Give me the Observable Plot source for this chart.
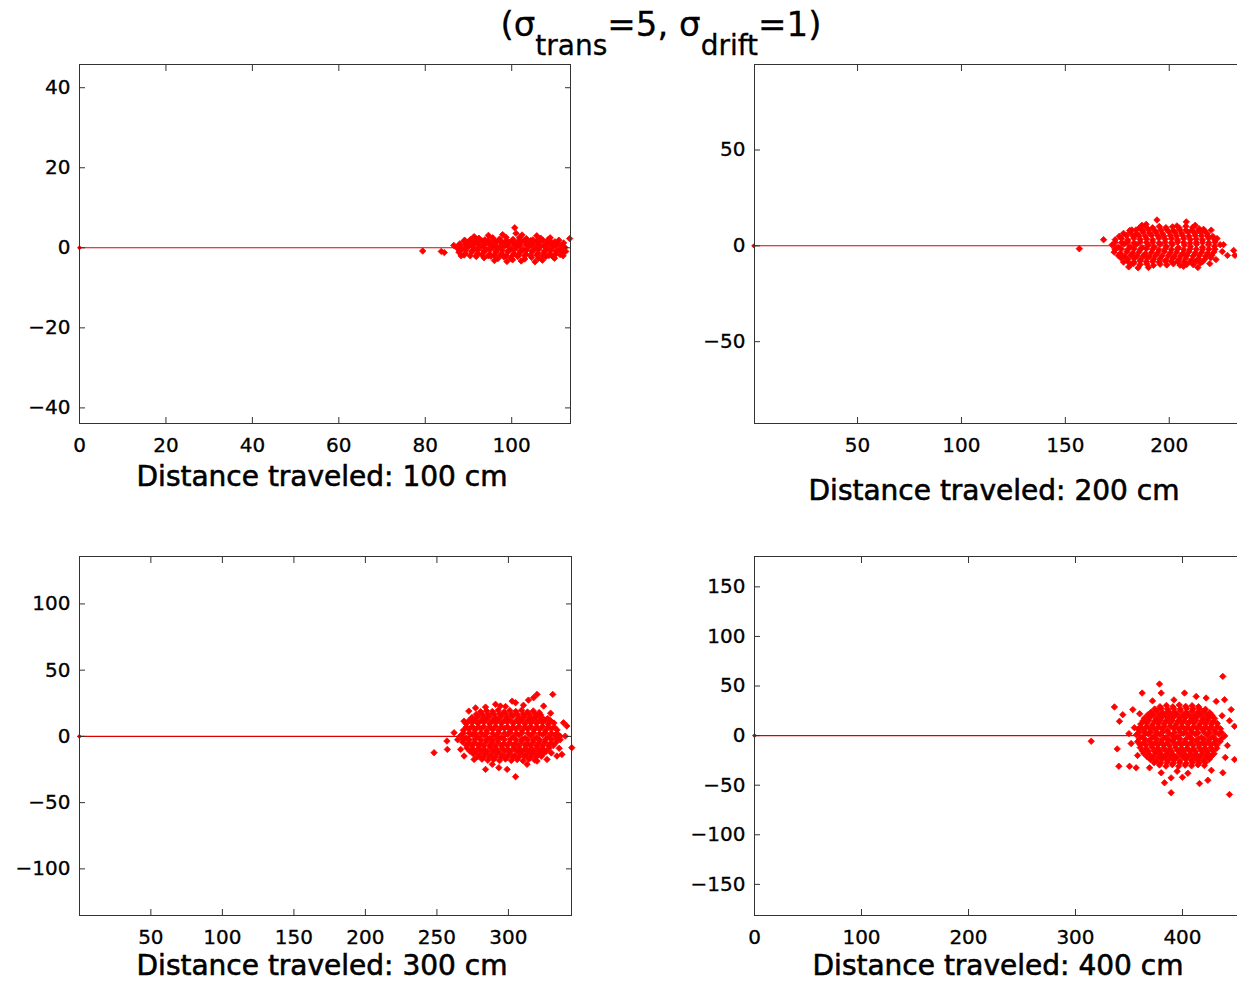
<!DOCTYPE html>
<html><head><meta charset="utf-8">
<script src="https://cdn.jsdelivr.net/npm/d3@7"></script>
<script src="https://cdn.jsdelivr.net/npm/@observablehq/plot@0.6"></script>
<style>
html,body{margin:0;padding:0;background:#fff;overflow:hidden;width:1237px;height:982px}
#root{position:relative;width:1237px;height:982px;font-family:"DejaVu Sans",sans-serif;overflow:hidden}
.panel{position:absolute;width:640px}
.panel svg{overflow:visible;max-width:none !important}
.panel svg text{stroke:#000;stroke-width:0.3px;paint-order:stroke}
</style></head><body><div id="root"></div>
<script>
// ---------- data ----------
const distances = [100, 200, 300, 400];
const xLimits = [[0, 113.6], [0.4, 236.7], [0.1, 344.1], [0, 458.9]];
const yLimits = [[-43.9, 45.8], [-92.7, 94.6], [-135.2, 135.8], [-181.4, 180.6]];
const xTicks = [[0, 20, 40, 60, 80, 100], [50, 100, 150, 200], [50, 100, 150, 200, 250, 300], [0, 100, 200, 300, 400]];
const yTicks = [[-40, -20, 0, 20, 40], [-50, 0, 50], [-100, -50, 0, 50, 100], [-150, -100, -50, 0, 50, 100, 150]];
const xLabels = ["Distance traveled: 100 cm", "Distance traveled: 200 cm", "Distance traveled: 300 cm", "Distance traveled: 400 cm"];
const titleParts = ["(σ", "trans", "=5, σ", "drift", "=1)"];

const cloud100 = [
[87.2,0.1],[88.6,-0.3],[90.1,0.4],[91.4,-0.2],[92.9,0.3],[94.2,-0.4],[95.7,0.2],[97.0,-0.1],[98.4,0.5],[99.9,-0.3],[101.2,0.2],[102.7,-0.4],[104.0,0.3],[105.5,-0.1],[106.8,0.4],[108.3,-0.2],[109.6,0.3],[111.0,-0.4],[112.3,0.1],
[88.0,1.0],[89.7,1.4],[91.1,1.1],[92.5,1.5],[93.9,1.2],[95.3,1.0],[96.7,1.6],[98.1,1.2],[99.5,1.4],[100.9,1.0],[102.3,1.5],[103.7,1.1],[105.1,1.3],[106.5,1.6],[107.9,1.0],[109.3,1.3],[110.7,1.1],
[87.8,-1.1],[89.3,-1.4],[90.7,-1.0],[92.1,-1.5],[93.5,-1.2],[94.9,-1.6],[96.3,-1.1],[97.7,-1.4],[99.1,-1.0],[100.5,-1.5],[101.9,-1.2],[103.3,-1.6],[104.7,-1.0],[106.1,-1.4],[107.5,-1.2],[108.9,-1.5],[110.3,-1.0],[111.7,-1.3],
[90.5,2.1],[92.4,2.4],[93.8,2.0],[95.6,2.5],[97.2,2.2],[98.7,2.6],[100.3,2.1],[101.8,2.5],[103.4,2.3],[104.9,2.0],[106.7,2.4],[108.4,2.0],
[91.8,-2.2],[93.6,-2.5],[95.2,-2.1],[96.8,-2.7],[98.2,-2.3],[99.8,-2.6],[101.4,-2.2],[103.0,-2.8],[104.6,-2.4],[106.2,-2.6],[107.9,-2.2],[109.6,-2.3],
[89.1,1.9],[91.3,2.8],[94.6,3.1],[97.9,3.3],[101.0,3.6],[102.4,3.2],[105.8,3.0],[108.9,2.5],[110.9,1.9],[96.0,-3.2],[98.9,-3.4],[100.2,-3.0],[102.2,-3.3],[105.4,-3.5],[107.1,-3.1],[109.9,-2.6],[111.9,-2.0],[112.5,-0.9],[88.3,-2.0],[112.0,1.2],
[79.4,-0.8],[83.7,-0.9],[84.4,-1.2],[100.7,5.0],[113.4,2.3],[86.6,0.6]
];
const core100 = [
[87.9,0.6],[89.3,0.7],[90.8,0.5],[92.1,0.8],[93.5,0.6],[94.9,0.7],[96.3,0.5],[97.7,0.8],[99.1,0.6],[100.5,0.7],[101.9,0.5],[103.3,0.8],[104.7,0.6],[106.1,0.7],[107.5,0.5],[108.9,0.8],[110.3,0.6],[111.6,0.5],
[88.0,-0.7],[89.4,-0.5],[90.9,-0.8],[92.2,-0.6],[93.6,-0.7],[95.0,-0.5],[96.4,-0.8],[97.8,-0.6],[99.2,-0.7],[100.6,-0.5],[102.0,-0.8],[103.4,-0.6],[104.8,-0.7],[106.2,-0.5],[107.6,-0.8],[109.0,-0.6],[110.4,-0.7],[111.8,-0.6],
[89.0,1.7],[90.4,1.9],[91.8,1.8],[93.2,1.7],[94.6,1.9],[96.0,1.8],[97.4,1.7],[98.8,1.9],[100.2,1.8],[101.6,1.7],[103.0,1.9],[104.4,1.8],[105.8,1.7],[107.2,1.9],[108.6,1.6],[110.0,1.5],
[89.0,-1.8],[90.4,-2.0],[91.8,-1.9],[93.2,-1.8],[94.6,-2.0],[96.0,-1.9],[97.4,-1.8],[98.8,-2.0],[100.2,-1.9],[101.6,-1.8],[103.0,-2.0],[104.4,-1.9],[105.8,-1.8],[107.2,-2.0],[108.6,-1.9],[110.0,-1.8],[111.2,-1.7]
];

const cloud200 = [
[172.5,0.5],[175.4,-0.8],[178.3,1.0],[181.2,-0.5],[184.1,0.7],[187.0,-1.0],[189.9,0.3],[192.8,-0.6],[195.7,0.9],[198.6,-0.4],[201.5,0.6],[204.4,-0.9],[207.3,0.4],[210.2,-0.3],[213.1,0.8],[216.0,-0.7],[218.9,0.5],[221.8,-0.2],[224.5,0.6],
[174.0,3.2],[177.1,3.8],[180.0,3.0],[183.0,3.9],[186.0,3.3],[189.1,3.6],[192.0,3.1],[195.0,4.0],[198.0,3.4],[201.1,3.7],[204.0,3.0],[207.0,3.8],[210.1,3.3],[213.0,3.6],[216.0,3.1],[219.0,3.9],[221.9,3.2],
[173.5,-3.3],[176.5,-3.9],[179.6,-3.1],[182.5,-3.7],[185.5,-3.2],[188.6,-4.0],[191.5,-3.4],[194.5,-3.6],[197.6,-3.0],[200.5,-3.8],[203.5,-3.3],[206.6,-3.9],[209.5,-3.1],[212.5,-3.7],[215.6,-3.4],[218.5,-3.8],[221.5,-3.2],
[178.0,6.5],[181.2,7.0],[184.3,6.4],[187.4,7.2],[190.5,6.7],[193.6,7.1],[196.7,6.5],[199.8,7.3],[202.9,6.8],[206.0,6.4],[209.1,7.1],[212.2,6.6],[215.3,7.0],[218.3,6.3],
[176.8,-6.4],[180.0,-7.0],[183.1,-6.6],[186.2,-7.3],[189.3,-6.5],[192.4,-7.1],[195.5,-6.8],[198.6,-7.4],[201.7,-6.6],[204.8,-7.0],[207.9,-6.5],[211.0,-7.2],[214.1,-6.7],[217.2,-6.9],[220.0,-6.2],
[185.5,9.2],[188.8,9.8],[192.0,9.4],[195.2,10.1],[198.4,9.5],[201.6,9.9],[204.8,9.3],[208.0,10.2],[211.2,9.6],[214.4,8.9],
[182.8,-9.3],[186.0,-9.8],[189.2,-9.5],[192.4,-10.2],[195.6,-9.6],[198.8,-10.0],[202.0,-9.4],[205.2,-10.1],[208.4,-9.7],[211.6,-9.9],[215.0,-9.0],
[186.8,10.7],[188.9,11.2],[194.1,13.5],[203.7,10.4],[208.2,12.5],[212.5,10.7],[216.5,8.6],[223.0,3.8],[226.1,0.6],[228.0,-5.0],[231.0,-2.4],[231.6,-5.0],[174.0,-1.5],[176.4,-5.0],[178.0,-8.5],[181.5,-9.8],[190.0,-11.3],[206.9,-10.7],[213.8,-11.3],[168.4,3.2],[156.7,-1.5],[180.5,-11.0],[185.0,-11.5],[219.5,-9.3],[222.5,-7.2],[225.5,-3.0],[220.2,8.2],[182.0,8.3]
];
const core200 = [
[174,1.8],[177,1.6],[180,1.9],[183,1.5],[186,1.8],[189,1.7],[192,1.9],[195,1.5],[198,1.8],[201,1.6],[204,1.9],[207,1.7],[210,1.5],[213,1.8],[216,1.7],[219,1.6],[222,1.9],
[174,-1.9],[177,-1.6],[180,-2.0],[183,-1.7],[186,-1.9],[189,-1.5],[192,-1.8],[195,-2.0],[198,-1.6],[201,-1.9],[204,-1.7],[207,-2.0],[210,-1.6],[213,-1.8],[216,-1.9],[219,-1.7],[222,-1.8],
[176,5.0],[179.5,5.4],[182.5,5.1],[185.5,5.3],[188.5,5.0],[191.5,5.5],[194.5,5.2],[197.5,5.0],[200.5,5.4],[203.5,5.1],[206.5,5.3],[209.5,5.0],[212.5,5.4],[215.5,5.2],[218.5,5.0],[221,4.9],
[175.5,-5.1],[178.5,-5.4],[181.5,-5.0],[184.5,-5.3],[187.5,-5.2],[190.5,-5.5],[193.5,-5.0],[196.5,-5.3],[199.5,-5.1],[202.5,-5.4],[205.5,-5.2],[208.5,-5.0],[211.5,-5.3],[214.5,-5.1],[217.5,-5.4],[220.5,-5.0],
[181,8.0],[184,8.3],[187,8.1],[190,8.4],[193,8.0],[196,8.3],[199,8.2],[202,8.0],[205,8.4],[208,8.1],[211,8.3],[214,8.0],[217,7.9],
[180,-8.1],[183,-8.4],[186,-8.0],[189,-8.3],[192,-8.2],[195,-8.5],[198,-8.0],[201,-8.3],[204,-8.1],[207,-8.4],[210,-8.2],[213,-8.0],[216,-8.3]
];

const cloud300 = [
[266.5,0.5],[270.6,-1.2],[274.7,1.4],[278.8,-0.6],[282.9,0.9],[287.0,-1.5],[291.1,0.3],[295.2,-0.8],[299.3,1.6],[303.4,-0.4],[307.5,1.1],[311.6,-1.3],[315.7,0.6],[319.8,-0.9],[323.9,1.3],[328.0,-0.5],[332.1,0.8],[336.2,0.2],
[268.5,4.6],[272.6,5.5],[276.7,4.8],[280.8,5.9],[284.9,4.4],[289.0,5.3],[293.1,4.7],[297.2,6.0],[301.3,4.9],[305.4,5.6],[309.5,4.5],[313.6,5.8],[317.7,4.8],[321.8,5.4],[325.9,4.6],[330.0,5.7],[334.0,4.9],
[268.0,-4.2],[272.1,-5.0],[276.2,-4.4],[280.3,-5.3],[284.4,-4.0],[288.5,-4.9],[292.6,-4.3],[296.7,-5.5],[300.8,-4.6],[304.9,-5.1],[309.0,-4.1],[313.1,-5.4],[317.2,-4.5],[321.3,-4.8],[325.4,-4.2],[329.5,-5.2],[333.2,-4.6],
[270.5,9.6],[274.6,10.4],[278.7,9.8],[282.8,10.7],[286.9,9.5],[291.0,10.3],[295.1,9.9],[299.2,10.8],[303.3,9.7],[307.4,10.5],[311.5,9.6],[315.6,10.2],[319.7,9.9],[323.8,10.6],[327.9,9.4],[331.8,10.1],
[271.0,-8.7],[275.1,-9.5],[279.2,-8.9],[283.3,-9.8],[287.4,-8.6],[291.5,-9.4],[295.6,-9.0],[299.7,-9.9],[303.8,-8.8],[307.9,-9.6],[312.0,-8.9],[316.1,-9.3],[320.2,-8.7],[324.3,-9.5],[328.4,-9.0],
[274.5,14.2],[278.6,15.0],[282.7,14.4],[286.8,15.3],[290.9,14.1],[295.0,15.2],[299.1,14.6],[303.2,15.5],[307.3,14.3],[311.4,15.1],[315.5,14.5],[319.6,14.9],[323.7,14.0],[327.5,13.5],
[275.5,-13.2],[279.6,-14.0],[283.7,-13.4],[287.8,-14.3],[291.9,-13.1],[296.0,-14.2],[300.1,-13.6],[304.2,-14.5],[308.3,-13.3],[312.4,-14.1],[316.5,-13.5],[320.6,-13.9],[324.7,-12.8],
[280.5,18.6],[284.6,19.4],[288.7,18.8],[292.8,19.7],[296.9,18.5],[301.0,19.5],[305.1,18.9],[309.2,19.8],[313.3,18.4],[317.4,19.2],[321.5,18.0],
[281.5,-17.2],[285.6,-18.0],[289.7,-17.4],[293.8,-18.3],[297.9,-17.1],[302.0,-18.2],[306.1,-17.5],[310.2,-18.4],[314.3,-17.3],[318.4,-17.9],
[331.0,31.7],[320.0,31.7],[317.6,29.2],[314.0,27.4],[302.6,26.6],[305.0,25.4],[291.0,24.2],[294.4,22.9],[284.0,22.1],[272.3,19.1],[268.9,11.5],[324.6,22.9],[338.5,10.3],[340.8,7.8],[339.7,0.2],[344.3,-8.5],[336.2,-2.5],[337.4,-13.6],[333.9,-14.8],[284.0,-24.9],[293.3,-23.6],[299.1,-24.9],[305.0,-30.4],[313.0,-21.1],[320.0,-18.6],[269.0,-14.8],[276.0,-17.4],[266.6,-9.8],[327.0,-17.4],[288.7,-21.1],[248.0,-12.3],[257.3,-9.8],[257.0,-3.5],[262.0,2.8],[264.5,-2.5],[310.5,23.5],[298.0,22.5],[329.5,17.5],[335.5,-9.0],[277.0,21.5],[330.0,-12.5]
];
const core300 = [
[268.5,2.3],[272.6,2.6],[276.7,2.2],[280.8,2.7],[284.9,2.4],[289,2.1],[293.1,2.6],[297.2,2.3],[301.3,2.8],[305.4,2.2],[309.5,2.5],[313.6,2.3],[317.7,2.7],[321.8,2.1],[325.9,2.6],[330,2.4],[334,2.2],
[268.5,-2.2],[272.6,-2.6],[276.7,-2.1],[280.8,-2.5],[284.9,-2.3],[289,-2.7],[293.1,-2.0],[297.2,-2.4],[301.3,-2.2],[305.4,-2.6],[309.5,-2.1],[313.6,-2.5],[317.7,-2.3],[321.8,-2.7],[325.9,-2.2],[330,-2.4],[334,-2.0],
[270.5,7.1],[274.6,7.5],[278.7,7.0],[282.8,7.4],[286.9,7.2],[291,7.6],[295.1,7.1],[299.2,7.3],[303.3,7.0],[307.4,7.5],[311.5,7.2],[315.6,7.4],[319.7,7.1],[323.8,7.6],[327.9,7.2],[332,7.0],
[270.5,-6.6],[274.6,-7.0],[278.7,-6.5],[282.8,-7.1],[286.9,-6.8],[291,-7.2],[295.1,-6.6],[299.2,-6.9],[303.3,-6.7],[307.4,-7.1],[311.5,-6.5],[315.6,-7.0],[319.7,-6.8],[323.8,-7.2],[327.9,-6.6],[331.5,-6.9],
[272.5,12.0],[276.6,12.4],[280.7,11.9],[284.8,12.5],[288.9,12.1],[293,12.6],[297.1,12.0],[301.2,12.3],[305.3,11.9],[309.4,12.4],[313.5,12.2],[317.6,12.6],[321.7,12.0],[325.8,12.3],[329.5,11.8],
[273,-11.1],[277.1,-11.5],[281.2,-11.0],[285.3,-11.6],[289.4,-11.2],[293.5,-11.7],[297.6,-11.1],[301.7,-11.4],[305.8,-11.0],[309.9,-11.5],[314,-11.2],[318.1,-11.6],[322.2,-11.1],[326.3,-11.3],
[277.5,16.6],[281.6,17.0],[285.7,16.5],[289.8,17.1],[293.9,16.7],[298,17.2],[302.1,16.6],[306.2,16.9],[310.3,16.5],[314.4,17.0],[318.5,16.7],[322.5,16.3],
[278.5,-15.3],[282.6,-15.7],[286.7,-15.2],[290.8,-15.8],[294.9,-15.4],[299,-15.9],[303.1,-15.3],[307.2,-15.6],[311.3,-15.2],[315.4,-15.7],[319.5,-15.4],[323,-15.0]
];

const cloud400 = [
[357,0.8],[362.5,-1.5],[368,1.9],[373.5,-0.7],[379,1.2],[384.5,-2.0],[390,0.4],[395.5,-1.1],[401,2.1],[406.5,-0.5],[412,1.4],[417.5,-1.8],[423,0.6],[428.5,-1.0],[434,1.7],[439.5,-0.3],
[358.5,6.5],[364,5.4],[369.5,7.1],[375,5.8],[380.5,6.9],[386,5.2],[391.5,7.4],[397,6.0],[402.5,6.8],[408,5.5],[413.5,7.2],[419,5.9],[424.5,6.6],[430,5.3],[435.5,6.9],
[358,-6.2],[363.5,-7.3],[369,-5.8],[374.5,-7.0],[380,-6.5],[385.5,-7.6],[391,-5.9],[396.5,-7.1],[402,-6.4],[407.5,-7.4],[413,-6.0],[418.5,-6.9],[424,-6.3],[429.5,-7.2],[435,-6.0],
[361,11.6],[366.5,12.8],[372,11.3],[377.5,12.5],[383,11.8],[388.5,13.0],[394,11.4],[399.5,12.6],[405,11.9],[410.5,12.9],[416,11.5],[421.5,12.4],[427,11.7],[432.5,12.2],
[360.5,-12.1],[366,-13.2],[371.5,-11.8],[377,-13.0],[382.5,-12.4],[388,-13.5],[393.5,-11.9],[399,-13.1],[404.5,-12.6],[410,-13.4],[415.5,-12.0],[421,-12.9],[426.5,-12.3],[432,-12.8],
[364.5,17.6],[370,18.8],[375.5,17.3],[381,18.5],[386.5,17.9],[392,19.0],[397.5,17.5],[403,18.6],[408.5,17.8],[414,18.9],[419.5,17.4],[425,18.3],[430,17.2],
[364,-18.1],[369.5,-19.2],[375,-17.8],[380.5,-19.0],[386,-18.4],[391.5,-19.5],[397,-17.9],[402.5,-19.1],[408,-18.6],[413.5,-19.4],[419,-18.0],[424.5,-18.9],[429.5,-18.2],
[370.5,23.6],[376,24.8],[381.5,23.3],[387,24.5],[392.5,23.9],[398,25.0],[403.5,23.5],[409,24.6],[414.5,23.8],[420,24.4],[425.5,23.1],
[370,-24.1],[375.5,-25.2],[381,-23.8],[386.5,-25.0],[392,-24.4],[397.5,-25.5],[403,-23.9],[408.5,-25.1],[414,-24.6],[419.5,-25.0],[425,-23.8],
[379,29.2],[385,30.4],[391,29.0],[397,30.8],[403,29.5],[409,30.2],[415,29.1],
[378.5,-29.6],[384.5,-30.8],[390.5,-29.3],[396.5,-31.0],[402.5,-29.8],[408.5,-30.5],[414.5,-29.4],[420.5,-30.2],
[314.7,-5.7],[437.7,59.7],[378.5,52],[362.3,42.9],[336.4,28.9],[344.2,21.1],[353.6,26.2],[341.1,14.4],[339,-13.4],[340.5,-30.9],[350.5,-30.9],[356.7,-32.5],[369.2,-32.5],[380.1,-37.5],[389.4,-42.6],[383.2,-47.6],[389.4,-57.6],[415.9,-48.3],[423.7,-45],[443.9,-59.4],[437.7,-37.5],[448.6,-24.1],[439.3,36.2],[431.5,34.5],[422.1,37.9],[412.8,39.5],[401.9,42.9],[380.1,42.9],[445.5,26.2],[448.6,9.4],[355,8],[352,-8],[350,2],[442,-10],[444,15],[395,-36],[405,-38],[372,35],[392,36],[427,-35],[400,-42],[358,-20],[360,22],[437,20],[440,-22]
];
const core400 = [
[359.5,3.2],[365,2.8],[370.5,3.4],[376,2.9],[381.5,3.3],[387,2.7],[392.5,3.1],[398,3.5],[403.5,2.8],[409,3.2],[414.5,2.9],[420,3.4],[425.5,3.0],[431,2.8],[436.5,3.1],
[359.5,-3.3],[365,-3.8],[370.5,-3.2],[376,-3.6],[381.5,-3.4],[387,-3.9],[392.5,-3.1],[398,-3.5],[403.5,-3.3],[409,-3.7],[414.5,-3.2],[420,-3.6],[425.5,-3.4],[431,-3.8],[436.5,-3.2],
[361,8.8],[366.5,9.3],[372,8.7],[377.5,9.2],[383,8.9],[388.5,9.4],[394,8.8],[399.5,9.1],[405,8.6],[410.5,9.3],[416,8.9],[421.5,9.2],[427,8.7],[432.5,9.0],
[360.5,-9.3],[366,-9.8],[371.5,-9.2],[377,-9.6],[382.5,-9.4],[388,-9.9],[393.5,-9.1],[399,-9.5],[404.5,-9.3],[410,-9.7],[415.5,-9.2],[421,-9.6],[426.5,-9.4],[432,-9.8],
[363,14.8],[368.5,15.3],[374,14.7],[379.5,15.2],[385,14.9],[390.5,15.4],[396,14.8],[401.5,15.1],[407,14.6],[412.5,15.3],[418,14.9],[423.5,15.2],[429,14.6],
[362.5,-15.3],[368,-15.8],[373.5,-15.2],[379,-15.6],[384.5,-15.4],[390,-15.9],[395.5,-15.1],[401,-15.5],[406.5,-15.3],[412,-15.7],[417.5,-15.2],[423,-15.6],[428.5,-15.4],
[367.5,20.8],[373,21.3],[378.5,20.7],[384,21.2],[389.5,20.9],[395,21.4],[400.5,20.8],[406,21.1],[411.5,20.6],[417,21.3],[422.5,20.9],[427.5,20.5],
[367,-21.3],[372.5,-21.8],[378,-21.2],[383.5,-21.6],[389,-21.4],[394.5,-21.9],[400,-21.1],[405.5,-21.5],[411,-21.3],[416.5,-21.7],[422,-21.2],[427,-21.0],
[374,26.8],[380,27.3],[386,26.7],[392,27.2],[398,26.9],[404,27.4],[410,26.8],[416,27.0],[421.5,26.5],
[373.5,-27.3],[379.5,-27.8],[385.5,-27.2],[391.5,-27.6],[397.5,-27.4],[403.5,-27.9],[409.5,-27.1],[415.5,-27.5],[421.5,-27.2]
];

const clouds = [cloud100.concat(core100), cloud200.concat(core200), cloud300.concat(core300), cloud400.concat(core400)];

// ---------- layout ----------
const layout = [
  {left: 0,   top: 0,   w: 640, h: 510, mL: 79, mR: 70, mT: 64, mB: 87, lx: 322, ly: 486},
  {left: 680, top: 0,   w: 640, h: 510, mL: 74, mR: 75, mT: 64, mB: 87, lx: 994, ly: 500},
  {left: 0,   top: 510, w: 640, h: 472, mL: 79, mR: 69, mT: 46, mB: 67, lx: 322, ly: 975},
  {left: 680, top: 510, w: 640, h: 472, mL: 74, mR: 75, mT: 46, mB: 67, lx: 998, ly: 975}
];

const root = document.getElementById("root");
const RED = "#ff0000";
const LINE = "#dd0000";
const AX = "#333333";

layout.forEach((L, i) => {
  const pts = clouds[i].map(([x, y]) => ({x, y}));
  const path = [{x: 0, y: 0}, {x: distances[i], y: 0}];
  const tickStyle = {stroke: AX, strokeWidth: 1, fill: "none", label: null};
  const chart = Plot.plot({
    width: L.w, height: L.h,
    marginLeft: L.mL, marginRight: L.mR, marginTop: L.mT, marginBottom: L.mB,
    style: {background: "transparent", fontFamily: "DejaVu Sans, sans-serif", overflow: "visible", maxWidth: "none"},
    x: {domain: xLimits[i]},
    y: {domain: yLimits[i]},
    marks: [
      Plot.line(path, {x: "x", y: "y", stroke: LINE, strokeWidth: 1.1}),
      Plot.dot(pts, {x: "x", y: "y", symbol: "diamond2", r: 2.9, fill: RED, stroke: RED, strokeWidth: 0.8}),
      Plot.dot([path[0]], {x: "x", y: "y", symbol: "diamond2", r: 2.2, fill: LINE}),
      Plot.frame({stroke: AX, strokeWidth: 1}),
      Plot.axisX({ticks: xTicks[i], anchor: "bottom", tickSize: 0, tickPadding: 14, fontSize: 20, fill: "#000", label: null}),
      Plot.axisY({ticks: yTicks[i], anchor: "left", tickSize: 0, tickPadding: 9, fontSize: 20, fill: "#000", label: null}),
      Plot.axisX({ticks: xTicks[i], anchor: "bottom", tickSize: -6, ...tickStyle}),
      Plot.axisX({ticks: xTicks[i], anchor: "top", tickSize: -6, ...tickStyle}),
      Plot.axisY({ticks: yTicks[i], anchor: "left", tickSize: -6, ...tickStyle}),
      Plot.axisY({ticks: yTicks[i], anchor: "right", tickSize: -6, ...tickStyle})
    ]
  });
  chart.style.maxWidth = "none";
  const div = document.createElement("div");
  div.className = "panel";
  div.style.left = L.left + "px";
  div.style.top = L.top + "px";
  div.appendChild(chart);
  root.appendChild(div);
});

// ---------- titles ----------
const svg = d3.select(root).append("svg")
  .attr("width", 1237).attr("height", 982)
  .style("position", "absolute").style("left", "0px").style("top", "0px")
  .style("pointer-events", "none")
  .style("font-family", "DejaVu Sans, sans-serif");

const t = svg.append("text").attr("x", 661).attr("y", 36)
  .attr("text-anchor", "middle").attr("font-size", 34).attr("fill", "#000")
  .attr("stroke", "#000").attr("stroke-width", 0.3);
t.append("tspan").text(titleParts[0]);
t.append("tspan").attr("font-size", 28).attr("dy", 19).text(titleParts[1]);
t.append("tspan").attr("dy", -19).text(titleParts[2]);
t.append("tspan").attr("font-size", 28).attr("dy", 19).text(titleParts[3]);
t.append("tspan").attr("dy", -19).text(titleParts[4]);

layout.forEach((L, i) => {
  svg.append("text").attr("x", L.lx).attr("y", L.ly)
    .attr("text-anchor", "middle").attr("font-size", 28).attr("fill", "#000")
    .attr("stroke", "#000").attr("stroke-width", 0.6)
    .text(xLabels[i]);
});
</script>
</body></html>
